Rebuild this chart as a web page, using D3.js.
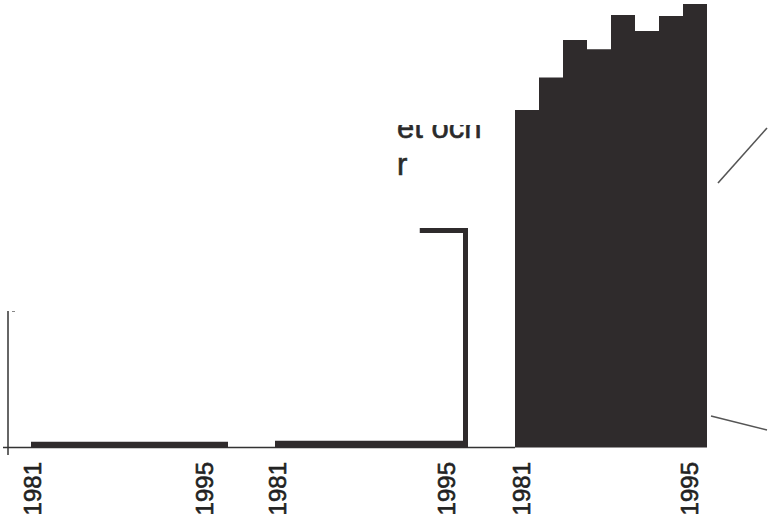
<!DOCTYPE html>
<html>
<head>
<meta charset="utf-8">
<script src="https://cdn.jsdelivr.net/npm/d3@7"></script>
<style>
  html, body { margin: 0; padding: 0; background: #fff; }
  svg { display: block; }
</style>
</head>
<body>
<svg id="chart" width="771" height="515"></svg>
<script>
// ---- data ----
const years = d3.range(1981, 1997);           // 1981 … 1996
const tickYears = [1981, 1995];
const panel1Values = [1.3,1.3,1.3,1.3,1.3,1.3,1.3,1.3,1.3,1.3,1.3,1.3,1.3,1.3,1.3,1.3];
const panel2Values = [1.5,1.5,1.5,1.5,1.5,1.5,1.5,1.5,1.5,1.5,1.5,1.5,1.5,1.5,1.5,1.5];
const panel2Top    = [null,null,null,null,null,null,null,null,null,null,null,null,49.5,49.5,49.5,49.5];
const panel3Values = [76.1,76.1,83.4,83.4,91.9,91.9,89.8,89.8,97.5,97.5,93.9,93.9,97.3,97.3,100,100];
const textLines = ["et och", "r"];

// ---- layout ----
const svg = d3.select("#chart");
const ink = "#2f2b2c";
const y = d3.scaleLinear().domain([0, 100]).range([447.5, 4]);

const panels = [
  { x0: 31,  x1: 228, labelDx: -5 },
  { x0: 275, x1: 468, labelDx: -4 },
  { x0: 515, x1: 707, labelDx: 0 }
];
panels.forEach(p => {
  p.x = d3.scaleLinear().domain([1981, 1997]).range([p.x0, p.x1]);
});

function stepPoints(vals) {
  const pts = years.map((yr, i) => ({ yr, v: vals[i] }));
  pts.push({ yr: 1997, v: vals[vals.length - 1] });
  return pts;
}
function area(xs) {
  return d3.area().curve(d3.curveStepAfter)
    .x(d => xs(d.yr)).y0(y(0)).y1(d => y(d.v));
}

// x axis baseline
svg.append("line").attr("x1", 3).attr("x2", 515).attr("y1", 447.5).attr("y2", 447.5)
  .attr("stroke", "#333").attr("stroke-width", 1.5);
// panel 1 y axis
svg.append("line").attr("x1", 8).attr("x2", 8).attr("y1", 311).attr("y2", 455)
  .attr("stroke", "#333").attr("stroke-width", 1.5);
svg.append("line").attr("x1", 12).attr("x2", 15).attr("y1", 311.5).attr("y2", 311.5)
  .attr("stroke", "#888").attr("stroke-width", 1);

// panel 1
svg.append("path").datum(stepPoints(panel1Values))
  .attr("d", area(panels[0].x)).attr("fill", ink);

// panel 2
svg.append("path").datum(stepPoints(panel2Values))
  .attr("d", area(panels[1].x)).attr("fill", ink);
{
  const xs = panels[1].x;
  const idx = panel2Top.map((v, i) => v == null ? -1 : i).filter(i => i >= 0);
  const first = years[idx[0]], v = panel2Top[idx[idx.length - 1]];
  const sw = 5;
  const xr = xs(1997) - sw / 2;
  const ytop = y(v) + sw / 2;
  svg.append("path")
    .attr("d", `M${xs(first)},${ytop}H${xr}V${y(0)}`)
    .attr("fill", "none").attr("stroke", ink).attr("stroke-width", sw);
}

// panel 3
svg.append("path").datum(stepPoints(panel3Values))
  .attr("d", area(panels[2].x)).attr("fill", ink);

// tick labels
panels.forEach(p => {
  tickYears.forEach(yr => {
    svg.append("text")
      .attr("transform", `translate(${p.x(yr + 0.5) + p.labelDx},462) rotate(-90)`)
      .attr("text-anchor", "end").attr("dy", "0.36em")
      .attr("font-family", "Liberation Sans, Arial, sans-serif")
      .attr("font-size", 24).attr("fill", "#222")
      .attr("stroke", "#222").attr("stroke-width", 0.6)
      .text(yr);
  });
});

// partially hidden text
const defs = svg.append("defs");
defs.append("clipPath").attr("id", "txtclip")
  .append("rect").attr("x", 380).attr("y", 125).attr("width", 120).attr("height", 60);
const tg = svg.append("g").attr("clip-path", "url(#txtclip)")
  .attr("font-family", "Liberation Sans, Arial, sans-serif")
  .attr("font-size", 31).attr("fill", "#2a2a2a")
  .attr("stroke", "#2a2a2a").attr("stroke-width", 0.6);
textLines.forEach((t, i) => {
  tg.append("text").attr("x", 397).attr("y", 138 + i * 37).text(t);
});

// callout leader lines
svg.append("line").attr("x1", 718).attr("y1", 183).attr("x2", 767).attr("y2", 128)
  .attr("stroke", "#555").attr("stroke-width", 1.6);
svg.append("line").attr("x1", 711).attr("y1", 416).attr("x2", 767).attr("y2", 430)
  .attr("stroke", "#555").attr("stroke-width", 1.6);
</script>
</body>
</html>
